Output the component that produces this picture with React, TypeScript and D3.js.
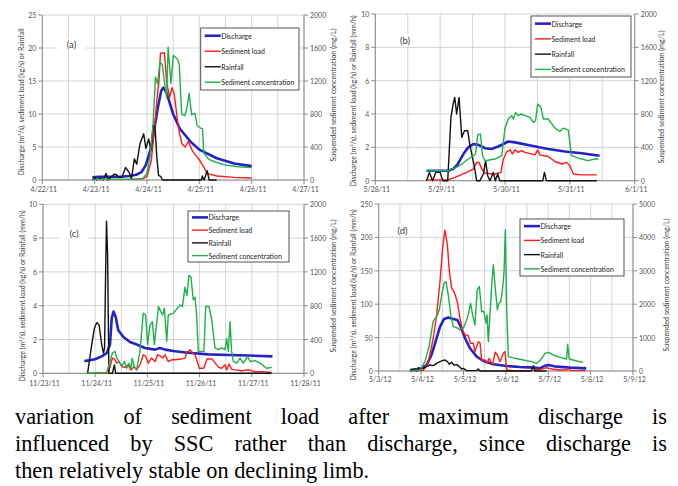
import React from 'react';
import * as d3 from 'd3';

// every series point is [hours since the first date on the x axis, value]
type Pt = [number, number];

// (a) 4/22/11 - 4/27/11
const aDischarge: Pt[] = [[23, 0.4], [26, 0.5], [36, 0.5], [40, 0.6], [43, 0.8], [45.5, 1.2], [47.5, 2.3], [50, 5], [51.5, 8], [53, 11], [54.5, 13.5], [55.5, 14], [57, 13.2], [60, 10], [63, 7.8], [68, 5.8], [72, 4.6], [80, 3.3], [88, 2.5], [96, 2.1]];
const aLoad: Pt[] = [[23, 0.1], [40, 0.1], [46, 0.2], [48, 0.5], [50, 3], [51.5, 8], [52.5, 12], [53.5, 15], [54.2, 19.2], [56, 19.3], [57, 15], [58.3, 12.5], [59.5, 14], [60.5, 13], [62, 9], [63, 7], [64, 5.5], [65.5, 5], [67, 5.8], [69, 4.3], [71, 3.5], [72.5, 2.8], [74, 2], [75.5, 1], [80, 0.6], [88, 0.4], [96, 0.3]];
const aRain: Pt[] = [[23, 0], [24, 0.4], [25, 0], [26.5, 0.3], [28, 0], [29.2, 1], [30.2, 0], [31.5, 0.4], [33, 0.9], [34, 0.8], [35, 0.4], [36.5, 0.4], [38.2, 1.9], [39.7, 1.2], [40.9, 0.2], [42.2, 3.2], [43.3, 2.4], [44.8, 5.5], [46.5, 7], [47.5, 4.8], [48.8, 6.2], [49.8, 4.5], [50.8, 8.3], [51.7, 8], [52.5, 3.5], [53.3, 0.7], [54.4, 0.5], [55.1, 0], [73, 0], [73.3, 0.6], [74.2, 0], [75.6, 1.4], [76.5, 0], [80, 0]];
const aSSC: Pt[] = [[23, 8], [44, 8], [46, 15], [48, 80], [49.5, 300], [50.8, 680], [51.9, 1250], [52.8, 1170], [54, 1430], [55, 1400], [56.3, 1130], [57, 1000], [57.7, 1610], [59, 1170], [60.1, 1510], [62.1, 1460], [62.8, 1400], [63.9, 800], [65.4, 780], [66.5, 900], [67.3, 1050], [68.5, 790], [70, 810], [71, 660], [72.5, 630], [73.5, 620], [74, 330], [76, 260], [78, 230], [84, 180], [90, 160], [96, 150]];

// (b) 5/28/11 - 6/1/11
const bDischarge: Pt[] = [[19, 0.6], [27, 0.6], [28.8, 0.7], [30.5, 1.0], [32.6, 1.6], [34.4, 2.0], [36.3, 2.2], [38.1, 2.15], [40.6, 1.95], [43, 1.9], [45.5, 2.05], [47.4, 2.2], [49.2, 2.35], [51.7, 2.3], [57.9, 2.1], [64, 1.9], [70.2, 1.75], [76.4, 1.65], [83, 1.5]];
const bLoad: Pt[] = [[19, 0.05], [27, 0.05], [29.5, 0.2], [33.2, 0.45], [36.3, 0.7], [37.5, 1.1], [38.4, 1.1], [39.4, 0.7], [40.6, 0.45], [44.3, 0.4], [46.5, 0.5], [47.4, 1.3], [48.7, 1.75], [49.9, 1.85], [50.7, 1.6], [51.7, 1.85], [52.9, 1.7], [54.2, 1.8], [55.4, 1.7], [56.6, 1.65], [59.1, 1.55], [60.1, 1.85], [60.9, 1.55], [64, 1.45], [66.5, 1.15], [69, 1.0], [70.8, 1.1], [72, 0.9], [73.3, 0.4], [76.4, 0.35], [82, 0.35]];
const bRain: Pt[] = [[19, 0], [20, 0.5], [21.2, 0], [22.4, 0.5], [24, 0.5], [25, 0], [26.8, 0], [28, 3.8], [28.8, 4.6], [29.4, 5.0], [30.1, 4.0], [31, 5.0], [32, 2.6], [33, 3.0], [34.2, 3.0], [35, 2.15], [36.6, 0.9], [37.5, 0], [38.7, 0], [40, 0.4], [40.8, 1.2], [41.6, 0.3], [42.4, 0], [43.7, 0.5], [44.4, 0], [45.3, 0.4], [46.1, 0], [62, 0], [62.6, 0.5], [63.3, 0], [82, 0]];
const bSSC: Pt[] = [[19, 120], [27, 120], [29.5, 150], [32, 200], [34.4, 260], [36.3, 300], [37.1, 320], [37.9, 550], [38.9, 560], [39.7, 300], [40.6, 240], [44.3, 260], [46.8, 300], [48, 630], [49.2, 740], [50.5, 780], [51.1, 740], [51.9, 820], [52.9, 780], [53.9, 800], [55.4, 780], [57.3, 760], [58.5, 700], [59.3, 720], [60.1, 920], [61.3, 880], [62.2, 740], [64, 740], [66.5, 630], [68.3, 590], [69.5, 630], [71.4, 610], [72.6, 300], [75.1, 270], [78.8, 240], [81.2, 260], [82.5, 260]];

// (c) 11/23/11 - 11/28/11
const cDischarge: Pt[] = [[19, 0.72], [23.9, 0.83], [27, 1.0], [29.3, 1.2], [30.8, 1.7], [31.6, 3.25], [32.4, 3.65], [33.4, 3.35], [34.6, 2.55], [37, 2.15], [40, 1.85], [43.1, 1.7], [46.9, 1.5], [51.5, 1.4], [53.8, 1.5], [56.1, 1.4], [60.7, 1.3], [66.8, 1.22], [76, 1.12], [85.2, 1.08], [94.4, 1.05], [105.5, 1.0]];
const cLoad: Pt[] = [[20, 0], [30, 0], [31.9, 0.9], [32.8, 0.85], [34, 0.6], [35, 0.7], [36.2, 0.4], [37.7, 0.35], [39.2, 0.5], [40.4, 0.2], [41.9, 0.4], [43, 0.2], [44.6, 0.5], [46.1, 1.1], [47.2, 1.0], [48.4, 0.6], [49.9, 0.9], [51.5, 0.7], [52.7, 1.1], [54.2, 1.0], [55.1, 0.9], [56.1, 1.1], [57.6, 0.7], [59.2, 0.8], [60.7, 0.8], [63.8, 0.85], [65.3, 0.9], [66.1, 1.2], [67.6, 1.4], [68.7, 1.2], [69.9, 1.1], [71.9, 0.3], [73.9, 0.3], [75.4, 0.85], [77.7, 0.85], [79.2, 0.6], [80.7, 0.35], [82.2, 0.3], [83.7, 0.5], [84.5, 0.2], [85.5, 0.55], [86.7, 0.25], [88.3, 0.2], [91.4, 0.15], [94.4, 0.2], [97.5, 0.1], [100.6, 0.1], [105.2, 0.05]];
const cRain: Pt[] = [[20.5, 0], [22.4, 1.7], [23.6, 2.65], [24.7, 3.0], [25.8, 2.85], [27, 1.7], [27.8, 1.2], [28.3, 1.5], [28.8, 6], [29.2, 9.0], [29.7, 7], [30.3, 0], [31.9, 0], [32.8, 0.5], [33.4, 0], [105, 0]];
const cSSC: Pt[] = [[20, 0], [29.3, 10], [30.8, 140], [31.9, 240], [33.1, 260], [33.9, 180], [34.9, 140], [36.2, 80], [37.4, 140], [38.5, 60], [39.5, 120], [40.4, 60], [41, 180], [41.9, 80], [43, 40], [44.6, 260], [46.1, 710], [47.2, 690], [48.1, 340], [49.2, 570], [50.3, 610], [51.2, 340], [52.2, 580], [53.1, 790], [54.2, 730], [55, 690], [55.8, 770], [56.9, 380], [57.6, 690], [59.9, 710], [63, 810], [64.1, 790], [65.3, 1020], [66.2, 920], [67.1, 1160], [68, 1140], [69.1, 870], [69.9, 900], [70.6, 700], [71.4, 260], [72.9, 260], [74, 260], [74.8, 790], [76.3, 790], [77.5, 650], [79.1, 300], [80.6, 280], [82.1, 300], [83.7, 280], [84.4, 410], [85.2, 260], [86, 610], [86.7, 260], [87.5, 140], [89, 120], [90.6, 180], [92.1, 120], [94.1, 200], [95.2, 140], [97.5, 150], [99.8, 120], [102.8, 60], [105.2, 70]];

// (d) 5/3/12 - 5/9/12
const dDischarge: Pt[] = [[17.7, 1.5], [23.4, 3], [27.1, 9], [29.9, 24], [32.4, 46], [34.7, 66], [37, 78], [39.4, 80], [42.3, 78], [44.5, 76.5], [46, 69], [48.9, 49], [51.7, 34], [55.5, 21.5], [59.3, 15], [64.9, 10], [72.5, 7.5], [80, 6], [87.6, 5], [91.3, 4], [94.2, 8], [96, 9], [100.8, 6.5], [108.3, 5], [117.5, 4]];
const dLoad: Pt[] = [[17.7, 0], [25.3, 1], [28.1, 14], [30.9, 49], [32.8, 84], [34.7, 134], [36.2, 184], [37.5, 211], [38.9, 189], [40, 149], [41.3, 124], [42.6, 119], [44.5, 104], [46, 79], [47.5, 61], [48.9, 54], [50.7, 53], [52, 41.5], [53.6, 41.5], [54.5, 29], [56.4, 44], [57.4, 42], [58.3, 16.5], [60.2, 16.5], [61.5, 11.5], [62.6, 19], [64.5, 9], [65.9, 28], [67.2, 24], [68.7, 14], [70.6, 26.5], [71.5, 29], [72.5, 1.5], [78.2, 0], [87.6, 1], [92.3, 3], [95.1, 5], [97.9, 3], [102.7, 1.5], [106.4, 1.5], [107.4, 4], [108.3, 1], [117, 0.5]];
const dRain: Pt[] = [[17.7, 0], [20.5, 3], [21.5, 0], [22.5, 5], [23.8, 3], [25.3, 4], [27.1, 6.5], [29, 9], [30.9, 8], [32.8, 11.5], [34.7, 14], [36.2, 15.5], [37.5, 16.5], [38.9, 14], [40, 10], [41.3, 13], [42.6, 9], [44.2, 9.5], [45.7, 6.5], [47, 3], [47.9, 4], [49.8, 0.5], [55.5, 0.5], [56.4, 3], [57.4, 0], [86.5, 0], [87.6, 8], [88.5, 0], [95, 0]];
const dSSC: Pt[] = [[17.7, 0], [23.4, 30], [26.2, 280], [28.7, 780], [30.9, 1500], [32.8, 1630], [34.3, 1830], [35.7, 2280], [37, 2630], [38.1, 2680], [39.4, 2280], [40.8, 1680], [42.3, 1330], [44.2, 1300], [46, 1230], [47.9, 1280], [49.5, 1480], [50.7, 1680], [52, 2030], [53.2, 1680], [54.5, 1380], [55.8, 2430], [57, 2530], [58.3, 1780], [59.6, 1780], [60.8, 1430], [61.4, 1680], [62.1, 880], [63, 1680], [64, 2580], [64.9, 3180], [66, 2480], [67.2, 1830], [68.1, 2030], [69.1, 2080], [70.2, 2480], [71, 3000], [71.7, 4230], [72.5, 1880], [73.4, 430], [77.2, 380], [81.9, 330], [86.6, 280], [89.4, 230], [91.7, 330], [94.2, 530], [96, 560], [98.9, 480], [104.5, 380], [106.4, 360], [107, 800], [107.9, 360], [112.1, 300], [115.8, 260]];

const legendNames = ['Discharge', 'Sediment load', 'Rainfall', 'Sediment concentration'];
const leftTitle = 'Discharge (m\u00b3/s), sediment load (kg/s) or Rainfall';
const rightTitle = 'Suspended sediment concentration (mg/L)';
const paragraph = [
  'variation of sediment load after maximum discharge is',
  'influenced by SSC rather than discharge, since discharge is',
  'then relatively stable on declining limb.',
];

const COLORS = { q: '#2424c4', load: '#ff1a1a', rain: '#111111', ssc: '#1fb04a' };
const FONT = 'Lato, "Liberation Sans", sans-serif';
const SERIF = '"Liberation Serif", "DejaVu Serif", "Times New Roman", Lato, serif';
const fmt = d3.utcFormat('%-m/%-d/%y');

type PanelCfg = {
  tag: string; start: Date; days: number;
  yMax: number; yStep: number; y2Max: number; y2Step: number; unit: boolean;
  q: Pt[]; load: Pt[]; rain: Pt[]; ssc: Pt[];
  frame: { left: number; right: number; top: number; bottom: number };
  legend: { x: number; y: number; w: number; h: number };
  tagPos: [number, number];
  titleL: [number, number]; titleR: [number, number]; xLab: number;
};

const panels: PanelCfg[] = [
  { tag: '(a)', start: new Date(Date.UTC(2011, 3, 22)), days: 5, yMax: 25, yStep: 5, y2Max: 2000, y2Step: 400, unit: false,
    q: aDischarge, load: aLoad, rain: aRain, ssc: aSSC,
    frame: { left: 42.3, right: 304, top: 15, bottom: 180 }, legend: { x: 200.7, y: 28, w: 98.3, h: 62 },
    tagPos: [71.5, 44], titleL: [21, 102], titleR: [333, 95], xLab: 9 },
  { tag: '(b)', start: new Date(Date.UTC(2011, 4, 28)), days: 4, yMax: 10, yStep: 2, y2Max: 2000, y2Step: 400, unit: true,
    q: bDischarge, load: bLoad, rain: bRain, ssc: bSSC,
    frame: { left: 375.3, right: 634.7, top: 14, bottom: 180.7 }, legend: { x: 531, y: 16, w: 100, h: 61 },
    tagPos: [405, 40], titleL: [353, 101], titleR: [661, 97], xLab: 8.5 },
  { tag: '(c)', start: new Date(Date.UTC(2011, 10, 23)), days: 5, yMax: 10, yStep: 2, y2Max: 2000, y2Step: 400, unit: true,
    q: cDischarge, load: cLoad, rain: cRain, ssc: cSSC,
    frame: { left: 43, right: 304, top: 204.3, bottom: 373.3 }, legend: { x: 188, y: 211, w: 101, h: 51 },
    tagPos: [74, 233], titleL: [21.7, 296], titleR: [333, 286], xLab: 9.5 },
  { tag: '(d)', start: new Date(Date.UTC(2012, 4, 3)), days: 6, yMax: 250, yStep: 50, y2Max: 5000, y2Step: 1000, unit: true,
    q: dDischarge, load: dLoad, rain: dRain, ssc: dSSC,
    frame: { left: 378.7, right: 633, top: 204, bottom: 371 }, legend: { x: 520, y: 219, w: 104, h: 57 },
    tagPos: [402.5, 230], titleL: [353, 295], titleR: [666, 285], xLab: 8 },
];

function Panel({ p }: { p: PanelCfg }) {
  const { left, right, top, bottom } = p.frame;
  const t0 = p.start;
  const t1 = d3.utcDay.offset(t0, p.days);
  const x = d3.scaleUtc().domain([t0, t1]).range([left, right]);
  const y = d3.scaleLinear().domain([0, p.yMax]).range([bottom, top]);
  const y2 = d3.scaleLinear().domain([0, p.y2Max]).range([bottom, top]);
  const at = (h: number) => new Date(t0.getTime() + h * 3600e3);
  const line = d3.line<Pt>().x(d => x(at(d[0]))).y(d => y(d[1]));
  const line2 = d3.line<Pt>().x(d => x(at(d[0]))).y(d => y2(d[1]));

  const yTicks = d3.range(0, p.yMax + 1e-9, p.yStep);
  const y2Ticks = d3.range(0, p.y2Max + 1e-9, p.y2Step);
  const days = d3.utcDay.range(t0, d3.utcHour.offset(t1, 1));
  const halves = d3.utcHour.every(12)!.range(t0, d3.utcHour.offset(t1, 1));

  const lg = p.legend;
  const rowH = lg.h / 4;
  const series = [
    { c: COLORS.q, w: 2.6 }, { c: COLORS.load, w: 1.4 }, { c: COLORS.rain, w: 1.4 }, { c: COLORS.ssc, w: 1.4 },
  ];
  const grid = '#cfcfcf';
  const axis = '#8a8a8a';
  const tickText = '#555';

  return (
    <g fontFamily={FONT}>
      {/* grid */}
      {halves.map((d, i) => (
        <line key={'v' + i} x1={x(d)} x2={x(d)} y1={top} y2={bottom} stroke={grid} strokeWidth={0.9} />
      ))}
      {yTicks.map(v => (
        <line key={'h' + v} x1={left} x2={right} y1={y(v)} y2={y(v)} stroke={grid} strokeWidth={0.9} />
      ))}

      {/* tag label with white backing */}
      <rect x={p.tagPos[0] - 14} y={p.tagPos[1] - 6} width={28} height={12} fill="#fff" />
      <text x={p.tagPos[0]} y={p.tagPos[1]} textAnchor="middle" dominantBaseline="central" fontSize={9.5} fill="#404040">{p.tag}</text>

      {/* axes */}
      <line x1={left} x2={left} y1={top} y2={bottom + 0.5} stroke={axis} strokeWidth={1} />
      <line x1={right} x2={right} y1={top} y2={bottom + 0.5} stroke={axis} strokeWidth={1} />
      <line x1={left} x2={right} y1={bottom} y2={bottom} stroke={axis} strokeWidth={1} />
      {yTicks.map(v => (
        <g key={'yl' + v}>
          <line x1={left - 4} x2={left} y1={y(v)} y2={y(v)} stroke={axis} />
          <text x={left - 6} y={y(v)} textAnchor="end" dominantBaseline="central" fontSize={7} fill={tickText}>{v}</text>
        </g>
      ))}
      {y2Ticks.map(v => (
        <g key={'yr' + v}>
          <line x1={right} x2={right + 4} y1={y2(v)} y2={y2(v)} stroke={axis} />
          <text x={right + 6} y={y2(v)} textAnchor="start" dominantBaseline="central" fontSize={7} fill={tickText}>{v}</text>
        </g>
      ))}
      {days.map((d, i) => (
        <g key={'x' + i}>
          <line x1={x(d)} x2={x(d)} y1={bottom} y2={bottom + 4} stroke={axis} />
          <text x={x(d) + 1.5} y={bottom + p.xLab} textAnchor="middle" dominantBaseline="central" fontSize={7} fill={tickText}>{fmt(d)}</text>
        </g>
      ))}
      <text transform={`translate(${p.titleL[0]},${p.titleL[1]}) rotate(-90)`} textAnchor="middle" dominantBaseline="central" fontSize={7} fill="#404040">
        {p.unit ? leftTitle + ' (mm/h)' : leftTitle}
      </text>
      <text transform={`translate(${p.titleR[0]},${p.titleR[1]}) rotate(-90)`} textAnchor="middle" dominantBaseline="central" fontSize={7.2} fill="#404040">
        {rightTitle}
      </text>

      {/* series */}
      <path d={line(p.q) ?? ''} fill="none" stroke={COLORS.q} strokeWidth={2.6} strokeLinejoin="round" />
      <path d={line(p.load) ?? ''} fill="none" stroke={COLORS.load} strokeWidth={1.4} strokeLinejoin="round" />
      <path d={line(p.rain) ?? ''} fill="none" stroke={COLORS.rain} strokeWidth={1.4} strokeLinejoin="round" />
      <path d={line2(p.ssc) ?? ''} fill="none" stroke={COLORS.ssc} strokeWidth={1.4} strokeLinejoin="round" />

      {/* legend */}
      <rect x={lg.x} y={lg.y} width={lg.w} height={lg.h} fill="#fff" stroke="#404040" strokeWidth={0.9} />
      {legendNames.map((name, i) => {
        const cy = lg.y + rowH * (i + 0.5);
        return (
          <g key={name}>
            <line x1={lg.x + 4} x2={lg.x + 20} y1={cy} y2={cy} stroke={series[i].c} strokeWidth={series[i].w} />
            <text x={lg.x + 20.5} y={cy} dominantBaseline="central" fontSize={7} fill="#222">{name}</text>
          </g>
        );
      })}
    </g>
  );
}

export default function App() {
  return (
    <div style={{ position: 'absolute', left: 0, top: 0, width: 678, height: 486, background: '#fff', overflow: 'hidden' }}>
      <svg width={678} height={400} style={{ display: 'block' }}>
        {panels.map(p => <Panel key={p.tag} p={p} />)}
      </svg>
      {paragraph.map((t, i) => (
        <div
          key={i}
          style={{
            position: 'absolute', left: 15, top: 403 + i * 26.8, width: 652,
            fontFamily: SERIF, fontSize: 22.3, lineHeight: '27px',
            color: '#000', whiteSpace: 'nowrap',
            textAlign: i < 2 ? 'justify' : 'left', textAlignLast: i < 2 ? 'justify' : 'left',
          }}
        >
          {t}
        </div>
      ))}
    </div>
  );
}
